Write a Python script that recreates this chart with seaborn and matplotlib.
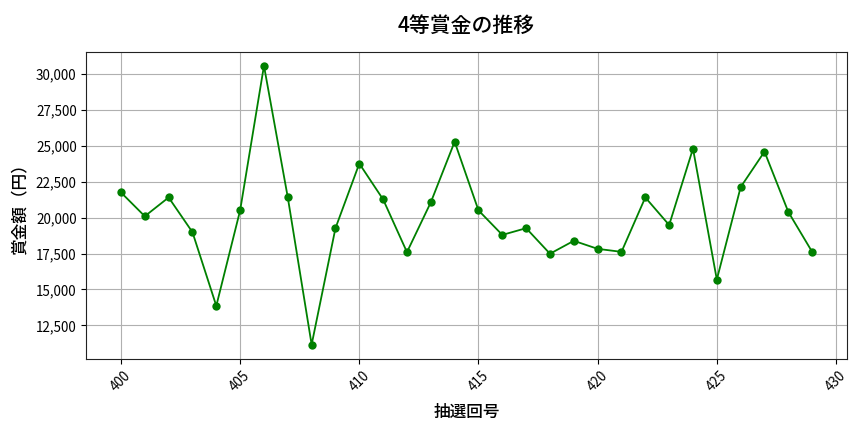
import numpy as np
import pandas as pd
import seaborn as sns
import matplotlib
matplotlib.use('Agg')
import matplotlib.pyplot as plt
from matplotlib.ticker import FuncFormatter

draws = list(range(400, 430))
prize = [21760, 20100, 21410, 18990, 13860, 20510, 30580, 21410, 11160, 19270,
         23770, 21270, 17600, 21070, 25290, 20510, 18800, 19270, 17490, 18390,
         17830, 17620, 21410, 19490, 24810, 15690, 22130, 24600, 20400, 17620]

df = pd.DataFrame({'draw': draws, 'prize': prize})

plt.rcParams['font.family'] = ['Noto Sans CJK JP', 'DejaVu Sans']

fig, ax = plt.subplots(figsize=(8.64, 4.32), dpi=100)
sns.lineplot(data=df, x='draw', y='prize', marker='o', color='green',
             markersize=6, markeredgewidth=0, linewidth=1.3, ax=ax)
ax.set_title('4等賞金の推移', fontsize=15, fontweight='medium', pad=14)
ax.set_xlabel('抽選回号', fontsize=12, fontweight='medium', labelpad=6)
ax.set_ylabel('賞金額（円）', fontsize=12, fontweight='medium', labelpad=5)
ax.yaxis.set_major_formatter(FuncFormatter(lambda v, p: f'{int(v):,}'))
ax.tick_params(axis='x', rotation=45, labelsize=9.7)
ax.tick_params(axis='y', labelsize=9.7)
ax.grid(True, color='#b0b0b0', linewidth=0.8)
for s in ax.spines.values():
    s.set_color('#222222')
plt.subplots_adjust(left=0.1, right=0.98, top=0.88, bottom=0.17)
plt.savefig('out.png')
